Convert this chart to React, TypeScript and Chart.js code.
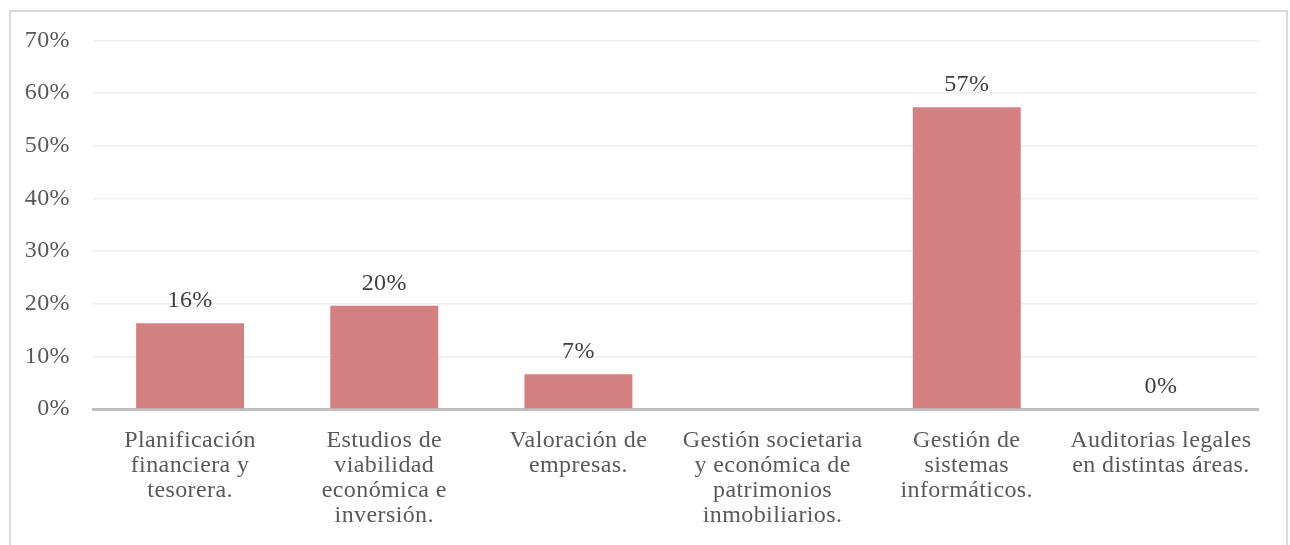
import React, { useEffect, useRef } from "react";
import { Chart, registerables } from "chart.js";

Chart.register(...registerables);

const categories: string[][] = [
  ["Planificación", "financiera y", "tesorera."],
  ["Estudios de", "viabilidad", "económica e", "inversión."],
  ["Valoración de", "empresas."],
  ["Gestión societaria", "y económica de", "patrimonios", "inmobiliarios."],
  ["Gestión de", "sistemas", "informáticos."],
  ["Auditorias legales", "en distintas áreas."],
];

const values: (number | null)[] = [16.3, 19.6, 6.6, null, 57.3, 0];

const yTicks: number[] = [0, 10, 20, 30, 40, 50, 60, 70];

const FONT = '"Liberation Serif", "Times New Roman", serif';
const TEXT = "#595959";
const LABEL_TEXT = "#404040";

const dataLabels = {
  id: "dataLabels",
  beforeDraw(chart: any) {
    try {
      chart.ctx.letterSpacing = "0.4px";
    } catch (e) {}
  },
  afterDatasetsDraw(chart: any) {
    const ctx = chart.ctx;
    const meta = chart.getDatasetMeta(0);
    ctx.save();
    ctx.font = `24px ${FONT}`;
    ctx.fillStyle = LABEL_TEXT;
    ctx.textAlign = "center";
    ctx.textBaseline = "alphabetic";
    meta.data.forEach((bar: any, i: number) => {
      const v = values[i];
      if (v === null || v === undefined) return;
      ctx.fillText(`${Math.round(v)}%`, bar.x, bar.y - 16);
    });
    ctx.restore();
  },
};

export default function App() {
  const ref = useRef<HTMLCanvasElement | null>(null);

  useEffect(() => {
    if (!ref.current) return;
    const chart = new Chart(ref.current, {
      type: "bar",
      data: {
        labels: categories,
        datasets: [
          {
            data: values,
            backgroundColor: "#d48080",
            categoryPercentage: 1,
            barPercentage: 0.556,
          },
        ],
      },
      options: {
        animation: false,
        responsive: false,
        layout: { padding: { left: 0, right: 28, top: 0, bottom: 0 } },
        plugins: {
          legend: { display: false },
          tooltip: { enabled: false },
        },
        scales: {
          x: {
            grid: { display: false, drawTicks: false },
            border: { display: true, color: "#bfbfbf", width: 3 },
            ticks: {
              color: TEXT,
              font: { family: FONT, size: 24, lineHeight: "25px" } as any,
              padding: 19,
              maxRotation: 0,
              autoSkip: false,
            },
            afterFit(scale: any) {
              scale.height = 136;
            },
          },
          y: {
            min: 0,
            max: 70,
            afterBuildTicks(scale: any) {
              scale.ticks = yTicks.map((v) => ({ value: v }));
            },
            grid: {
              drawTicks: false,
              color: (c: any) => (c.tick && c.tick.value === 0 ? "rgba(0,0,0,0)" : "#eeeeee"),
              lineWidth: 1.5,
            },
            border: { display: false },
            ticks: {
              color: TEXT,
              font: { family: FONT, size: 24 },
              padding: 23,
              callback: (v: any) => `${v}%`,
            },
            afterFit(scale: any) {
              scale.width = 82;
            },
          },
        },
      },
      plugins: [dataLabels],
    });
    return () => chart.destroy();
  }, []);

  return (
    <div
      style={{
        position: "fixed",
        left: 9,
        top: 10,
        width: 1279,
        height: 545,
        boxSizing: "border-box",
        border: "2px solid #d9d9d9",
        borderBottom: "none",
        background: "#fff",
        overflow: "hidden",
      }}
    >
      <canvas
        ref={ref}
        width={1275}
        height={542}
        style={{ display: "block", marginTop: -9 }}
      />
    </div>
  );
}
